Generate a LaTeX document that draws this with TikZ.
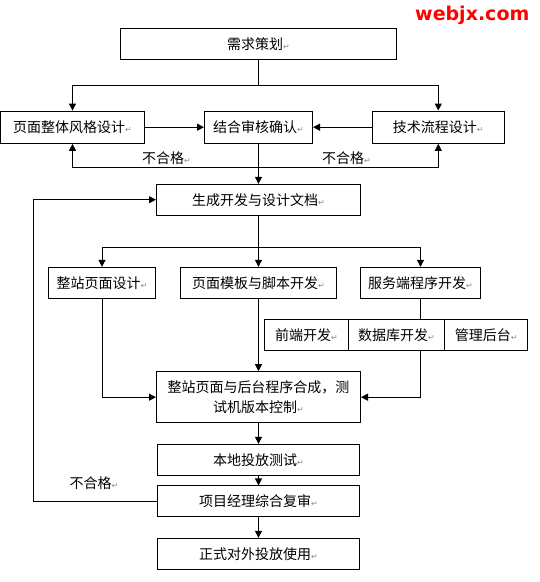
\documentclass[tikz,border=0pt]{standalone}
\usepackage{fontspec}
\setmainfont{Noto Sans CJK SC}
\newfontfamily\dvs{DejaVu Sans}
\usetikzlibrary{arrows.meta}
\newcommand{\ret}{{\dvs\fontsize{8}{8}\selectfont\textcolor{black!45}{↵}}}
\begin{document}
\begin{tikzpicture}[x=1pt,y=-1pt,
  box/.style={draw, line width=1pt, inner sep=0pt, font=\fontsize{14}{20}\selectfont, align=center},
  arr/.style={line width=1pt, -{Triangle[length=7pt,width=7pt]}},
  ln/.style={line width=1pt},
  lbl/.style={inner sep=0pt, font=\fontsize{14}{16}\selectfont}]
\useasboundingbox (0,0) rectangle (540,582);

\node[inner sep=0pt, anchor=base west, text=red, font=\dvs\bfseries\fontsize{19}{19}\selectfont] (logo) at (415,20.5) {webjx.com};

\node[box, minimum width=276.3pt, minimum height=30.7pt] (req) at (258.5,43.7) {需求策划\ret};

\node[box, minimum width=143.6pt, minimum height=32.3pt] (style) at (72.5,127.2) {页面整体风格设计\ret};
\node[box, minimum width=108pt, minimum height=32.3pt] (review) at (258.5,127.2) {结合审核确认\ret};
\node[box, minimum width=132pt, minimum height=32.3pt] (tech) at (438.3,127.2) {技术流程设计\ret};

\node[box, minimum width=204pt, minimum height=30.7pt] (gen) at (258.5,199.7) {生成开发与设计文档\ret};

\node[box, minimum width=107.4pt, minimum height=31pt] (site) at (102,282.8) {整站页面设计\ret};
\node[box, minimum width=156.7pt, minimum height=31pt] (tmpl) at (258.5,282.8) {页面模板与脚本开发\ret};
\node[box, minimum width=120.4pt, minimum height=31pt] (server) at (420.5,282.8) {服务端程序开发\ret};

\node[box, minimum width=83.5pt, minimum height=31.4pt] (front) at (306.5,335) {前端开发\ret};
\node[box, minimum width=96.4pt, minimum height=31.4pt] (db) at (396.5,335) {数据库开发\ret};
\node[box, minimum width=83pt, minimum height=31.4pt] (admin) at (486.2,335) {管理后台\ret};

\node[box, minimum width=204pt, minimum height=51pt] (merge) at (258.5,397.2) {整站页面与后台程序合成，测\\试机版本控制\ret};

\node[box, minimum width=202.6pt, minimum height=30.7pt] (local) at (258.5,459.7) {本地投放测试\ret};
\node[box, minimum width=202.6pt, minimum height=30.7pt] (pm) at (258.5,501.3) {项目经理综合复审\ret};
\node[box, minimum width=202.6pt, minimum height=30.7pt] (final) at (258.5,553.7) {正式对外投放使用\ret};

\node[lbl] (no1) at (166.5,157.7) {不合格\ret};
\node[lbl] (no2) at (346.5,157.7) {不合格\ret};
\node[lbl] (no3) at (94,482.8) {不合格\ret};

\coordinate (j1) at (258.5,85.7);
\coordinate (j2) at (258.5,167);
\coordinate (j3) at (258.5,247.3);
\coordinate (lp) at (33.3,350);

\draw[ln] (req.south) -- (j1);
\draw[arr] (j1) -| (style.north);
\draw[arr] (j1) -| (tech.north);
\draw[arr] (style.east) -- (review.west);
\draw[arr] (tech.west) -- (review.east);
\draw[arr] (review.south) -- (gen.north);
\draw[arr] (j2) -| (style.south);
\draw[arr] (j2) -| (tech.south);

\draw[arr] (gen.south) -- (tmpl.north);
\draw[arr] (j3) -| (site.north);
\draw[arr] (j3) -| (server.north);

\draw[ln] (server.south) -- (server.south |- db.north);
\draw[arr] (server.south |- db.south) |- (merge.east);
\draw[arr] (site.south) |- (merge.west);
\draw[arr] (tmpl.south) -- (merge.north);

\draw[arr] (merge.south) -- (local.north);
\draw[arr] (local.south) -- (pm.north);
\draw[arr] (pm.south) -- (final.north);
\draw[arr] (pm.west) -| (lp) |- (gen.west);
\end{tikzpicture}
\end{document}
